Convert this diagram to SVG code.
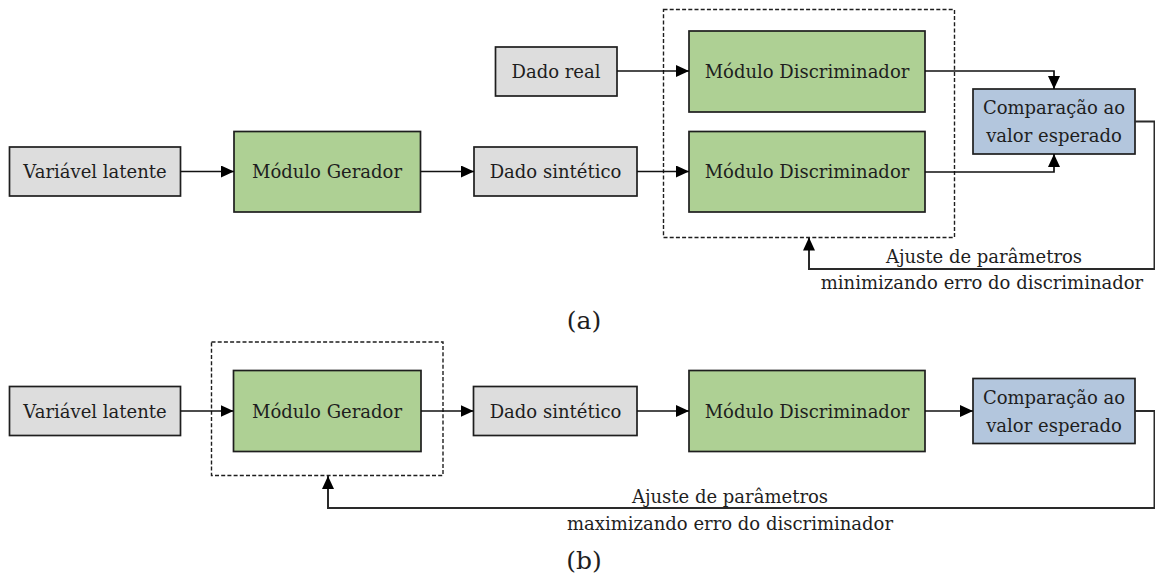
<svg xmlns="http://www.w3.org/2000/svg" width="1155" height="578" viewBox="0 0 1155 578" font-family="'DejaVu Serif', 'Liberation Serif', serif">
  <style>
    .box { stroke: #1e1e1e; stroke-width: 1.7; }
    .gray { fill: #dddddd; }
    .green { fill: #aed094; }
    .blue { fill: #b3c6dd; }
    .group { fill: none; stroke: #1e1e1e; stroke-width: 1.4; stroke-dasharray: 4 2.2; }
    .wire { fill: none; stroke: #111111; stroke-width: 1.7; }
    .fb { fill: none; stroke: #2a2a2a; stroke-width: 2; }
    .lbl { font-size: 18px; fill: #1e1e1e; text-anchor: middle; }
    .cap { font-size: 25px; fill: #1e1e1e; text-anchor: middle; }
  </style>
  <defs>
    <marker id="arrow" viewBox="0 0 13 12" refX="13" refY="6" markerWidth="13" markerHeight="12" markerUnits="userSpaceOnUse" orient="auto">
      <path d="M0,0 L13,6 L0,12 Z" fill="#000000"/>
    </marker>
  </defs>

  <rect width="1155" height="578" fill="#ffffff"/>

  <!-- ===== (a) discriminator training ===== -->
  <g id="a-group">
    <rect class="group" x="663.5" y="9.5" width="291" height="228"/>
  </g>
  <g id="a-latente">
    <rect class="box gray" x="9.5" y="147" width="171" height="49"/>
    <text class="lbl" x="95" y="178">Variável latente</text>
  </g>
  <g id="a-gerador">
    <rect class="box green" x="234" y="131.5" width="186.5" height="80.5"/>
    <text class="lbl" x="327" y="178">Módulo Gerador</text>
  </g>
  <g id="a-sintetico">
    <rect class="box gray" x="474" y="147" width="163" height="49"/>
    <text class="lbl" x="555.5" y="178">Dado sintético</text>
  </g>
  <g id="a-real">
    <rect class="box gray" x="495.5" y="47" width="121.5" height="49"/>
    <text class="lbl" x="556" y="77.5">Dado real</text>
  </g>
  <g id="a-disc-real">
    <rect class="box green" x="689" y="31" width="236" height="81"/>
    <text class="lbl" x="807" y="77.5">Módulo Discriminador</text>
  </g>
  <g id="a-disc-sint">
    <rect class="box green" x="689" y="131.5" width="236" height="80.5"/>
    <text class="lbl" x="807" y="178">Módulo Discriminador</text>
  </g>
  <g id="a-comparacao">
    <rect class="box blue" x="973" y="89" width="162" height="65"/>
    <text class="lbl" x="1054" y="114">Comparação ao</text>
    <text class="lbl" x="1054" y="142">valor esperado</text>
  </g>

  <!-- ===== (b) generator training ===== -->
  <g id="b-group">
    <rect class="group" x="211.5" y="342" width="231.5" height="133.5"/>
  </g>
  <g id="b-latente">
    <rect class="box gray" x="9.5" y="386.5" width="171" height="49"/>
    <text class="lbl" x="95" y="417.5">Variável latente</text>
  </g>
  <g id="b-gerador">
    <rect class="box green" x="233.5" y="370.5" width="187.5" height="81"/>
    <text class="lbl" x="327" y="417.5">Módulo Gerador</text>
  </g>
  <g id="b-sintetico">
    <rect class="box gray" x="473.5" y="386.5" width="163.5" height="49"/>
    <text class="lbl" x="555.5" y="417.5">Dado sintético</text>
  </g>
  <g id="b-disc">
    <rect class="box green" x="689" y="370.5" width="236" height="81"/>
    <text class="lbl" x="807" y="417.5">Módulo Discriminador</text>
  </g>
  <g id="b-comparacao">
    <rect class="box blue" x="973" y="378.5" width="162" height="65"/>
    <text class="lbl" x="1054" y="403.5">Comparação ao</text>
    <text class="lbl" x="1054" y="431.5">valor esperado</text>
  </g>

  <!-- connectors -->
  <g id="connectors">
    <!-- (a) -->
    <line class="wire" x1="180.5" y1="171.5" x2="234" y2="171.5" marker-end="url(#arrow)"/>
    <line class="wire" x1="420.5" y1="171.5" x2="474" y2="171.5" marker-end="url(#arrow)"/>
    <line class="wire" x1="637" y1="171.5" x2="689" y2="171.5" marker-end="url(#arrow)"/>
    <line class="wire" x1="617" y1="71" x2="689" y2="71" marker-end="url(#arrow)"/>
    <polyline class="wire" points="925,71 1054,71 1054,89" marker-end="url(#arrow)"/>
    <polyline class="wire" points="925,172 1054,172 1054,154" marker-end="url(#arrow)"/>
    <polyline class="fb" points="1135,121.5 1154.5,121.5 1154.5,269 809,269 809,237.5" marker-end="url(#arrow)"/>
    <!-- (b) -->
    <line class="wire" x1="180.5" y1="411" x2="233.5" y2="411" marker-end="url(#arrow)"/>
    <line class="wire" x1="421" y1="411" x2="473.5" y2="411" marker-end="url(#arrow)"/>
    <line class="wire" x1="637" y1="411" x2="689" y2="411" marker-end="url(#arrow)"/>
    <line class="wire" x1="925" y1="411" x2="973" y2="411" marker-end="url(#arrow)"/>
    <polyline class="fb" points="1135,411 1154.5,411 1154.5,508 328,508 328,476" marker-end="url(#arrow)"/>
  </g>

  <!-- feedback labels and captions -->
  <text class="lbl" x="984" y="262.5">Ajuste de parâmetros</text>
  <text class="lbl" x="982" y="289">minimizando erro do discriminador</text>
  <text class="cap" x="584" y="329">(a)</text>
  <text class="lbl" x="730" y="502.5">Ajuste de parâmetros</text>
  <text class="lbl" x="730" y="530">maximizando erro do discriminador</text>
  <text class="cap" x="584" y="569">(b)</text>
</svg>
